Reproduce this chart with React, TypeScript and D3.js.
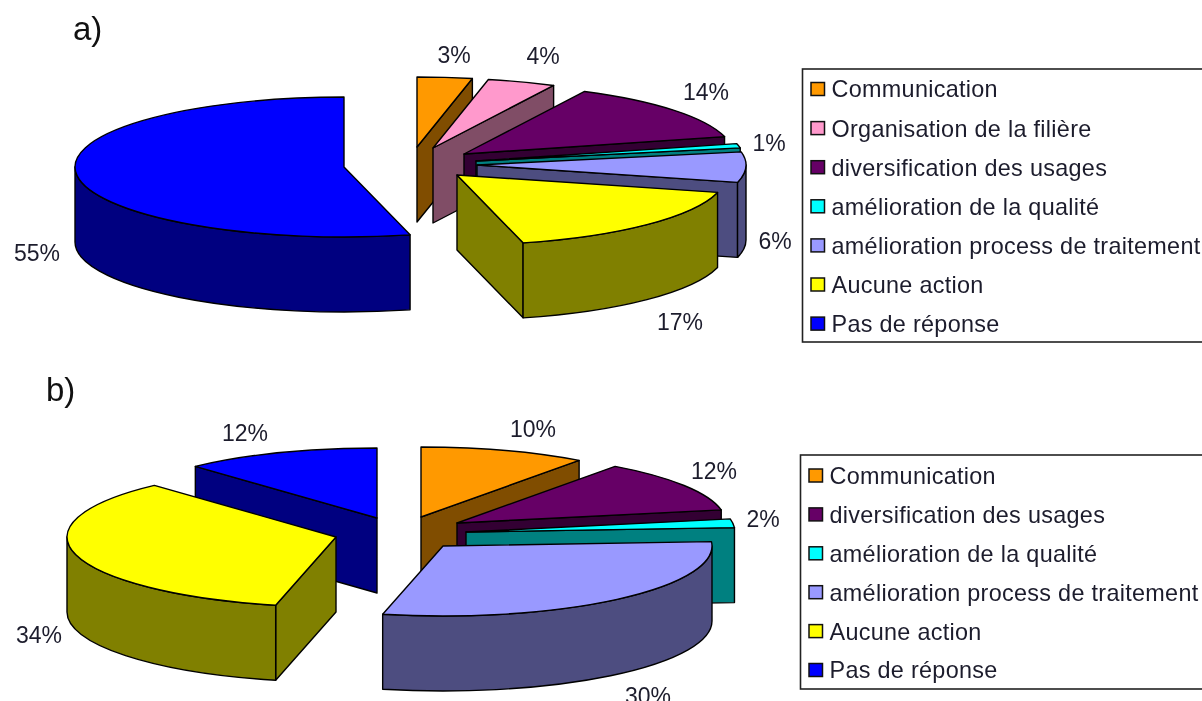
import React from "react";
import * as d3 from "d3";

// ---- data ----
const categoriesA = ["Communication", "Organisation de la filière", "diversification des usages", "amélioration de la qualité", "amélioration process de traitement", "Aucune action", "Pas de réponse"];
const labelsA = ["3%", "4%", "14%", "1%", "6%", "17%", "55%"];
const valuesA = [3.3, 4.1, 13.6, 1, 7, 17.05, 53.95];

const categoriesB = ["Communication", "diversification des usages", "amélioration de la qualité", "amélioration process de traitement", "Aucune action", "Pas de réponse"];
const labelsB = ["10%", "12%", "2%", "30%", "34%", "12%"];
const valuesB = [10, 12, 2, 29.6, 34.6, 11.8];

const topColors: Record<string, string> = {
  "Communication": "#FF9900",
  "Organisation de la filière": "#FF99CC",
  "diversification des usages": "#660066",
  "amélioration de la qualité": "#00FFFF",
  "amélioration process de traitement": "#9999FF",
  "Aucune action": "#FFFF00",
  "Pas de réponse": "#0000FF",
};
const sideColors: Record<string, string> = {
  "Communication": "#804D00",
  "Organisation de la filière": "#804D66",
  "diversification des usages": "#330033",
  "amélioration de la qualité": "#008080",
  "amélioration process de traitement": "#4D4D80",
  "Aucune action": "#808000",
  "Pas de réponse": "#000080",
};

// ---- layout ----
const RX = 269;
const RY = 70;
const DEPTH = 75;
const TEXT = "#1c1c2c";
const FONT = "'Liberation Sans', Arial, sans-serif";

const apexA: [number, number][] = [[417, 147], [433, 148], [464, 154], [476, 161], [477, 165], [457, 175], [344, 167]];
const labelPosA: [number, number][] = [[454, 55], [543, 56], [706, 92], [769, 143], [775, 241], [680, 322], [37, 253]];
const apexB: [number, number][] = [[421, 517], [457, 523], [466, 532], [443, 546], [336, 537], [377, 518]];
const labelPosB: [number, number][] = [[533, 429], [714, 471], [763, 519], [648, 696], [39, 635], [245, 433]];

const pie = d3.pie<number>().sort(null).startAngle(0).endAngle(2 * Math.PI);

function slices(cats: string[], vals: number[], apex: [number, number][]) {
  const arcs = pie(vals);
  const rows = cats.map((c, i) => ({ cat: c, a0: arcs[i].startAngle, a1: arcs[i].endAngle, cx: apex[i][0], cy: apex[i][1] }));
  return d3.sort(rows, (d) => d.cy);
}

function Slice({ cat, a0, a1, cx, cy }: { cat: string; a0: number; a1: number; cx: number; cy: number }) {
  const px = (a: number) => cx + RX * Math.sin(a);
  const py = (a: number) => cy - RY * Math.cos(a);
  const top = `M${cx},${cy}L${px(a0)},${py(a0)}A${RX},${RY} 0 ${a1 - a0 > Math.PI ? 1 : 0} 1 ${px(a1)},${py(a1)}Z`;
  const radial = (a: number) =>
    `M${cx},${cy}L${px(a)},${py(a)}L${px(a)},${py(a) + DEPTH}L${cx},${cy + DEPTH}Z`;
  const showStart = Math.sin(a0) < -1e-6;
  const showEnd = Math.sin(a1) > 1e-6;
  const w0 = Math.max(a0, Math.PI / 2);
  const w1 = Math.min(a1, 1.5 * Math.PI);
  const wall =
    w1 > w0
      ? `M${px(w0)},${py(w0)}A${RX},${RY} 0 0 1 ${px(w1)},${py(w1)}L${px(w1)},${py(w1) + DEPTH}A${RX},${RY} 0 0 0 ${px(w0)},${py(w0) + DEPTH}Z`
      : null;
  const stroke = { stroke: "#000", strokeWidth: 1.4, strokeLinejoin: "round" as const };
  return (
    <g>
      {showStart && <path d={radial(a0)} fill={sideColors[cat]} {...stroke} />}
      {showEnd && <path d={radial(a1)} fill={sideColors[cat]} {...stroke} />}
      {wall && <path d={wall} fill={sideColors[cat]} {...stroke} />}
      <path d={top} fill={topColors[cat]} {...stroke} />
    </g>
  );
}

function Legend({ cats, x, y0, y1, rowY, step, }: { cats: string[]; x: number; y0: number; y1: number; rowY: number; step: number }) {
  const row = d3.scaleLinear().domain([0, 1]).range([rowY, rowY + step]);
  return (
    <g>
      <rect x={x} y={y0} width={1202 - x + 10} height={y1 - y0} fill="#fff" stroke="#222" strokeWidth={1.6} />
      {cats.map((c, i) => (
        <g key={c}>
          <rect x={x + 8.5} y={row(i) - 6.5} width={13.5} height={13} fill={topColors[c]} stroke="#111" strokeWidth={1.5} />
          <text x={x + 29} y={row(i)} dy="0.36em" fontFamily={FONT} fontSize={23.4} letterSpacing={0.3} fill={TEXT}>{c}</text>
        </g>
      ))}
    </g>
  );
}

function Labels({ labels, pos }: { labels: string[]; pos: [number, number][] }) {
  return (
    <g>
      {labels.map((l, i) => (
        <text key={i} x={pos[i][0]} y={pos[i][1]} dy="0.36em" textAnchor="middle" fontFamily={FONT} fontSize={23} fill={TEXT}>{l}</text>
      ))}
    </g>
  );
}

export default function App() {
  const a = slices(categoriesA, valuesA, apexA);
  const b = slices(categoriesB, valuesB, apexB);
  return (
    <svg width={1202} height={701} style={{ position: "absolute", left: 0, top: 0, display: "block", filter: "blur(0.35px)" }}>
      <rect width={1202} height={701} fill="#fff" />
      <text x={73} y={40} fontFamily={FONT} fontSize={33} fill="#111">a)</text>
      <text x={46} y={401} fontFamily={FONT} fontSize={33} fill="#111">b)</text>
      {a.map((s) => <Slice key={s.cat} {...s} />)}
      {b.map((s) => <Slice key={s.cat} {...s} />)}
      <Labels labels={labelsA} pos={labelPosA} />
      <Labels labels={labelsB} pos={labelPosB} />
      <Legend cats={categoriesA} x={802.5} y0={69} y1={342} rowY={89} step={39.1} />
      <Legend cats={categoriesB} x={800.5} y0={455} y1={689} rowY={475.5} step={38.9} />
    </svg>
  );
}
